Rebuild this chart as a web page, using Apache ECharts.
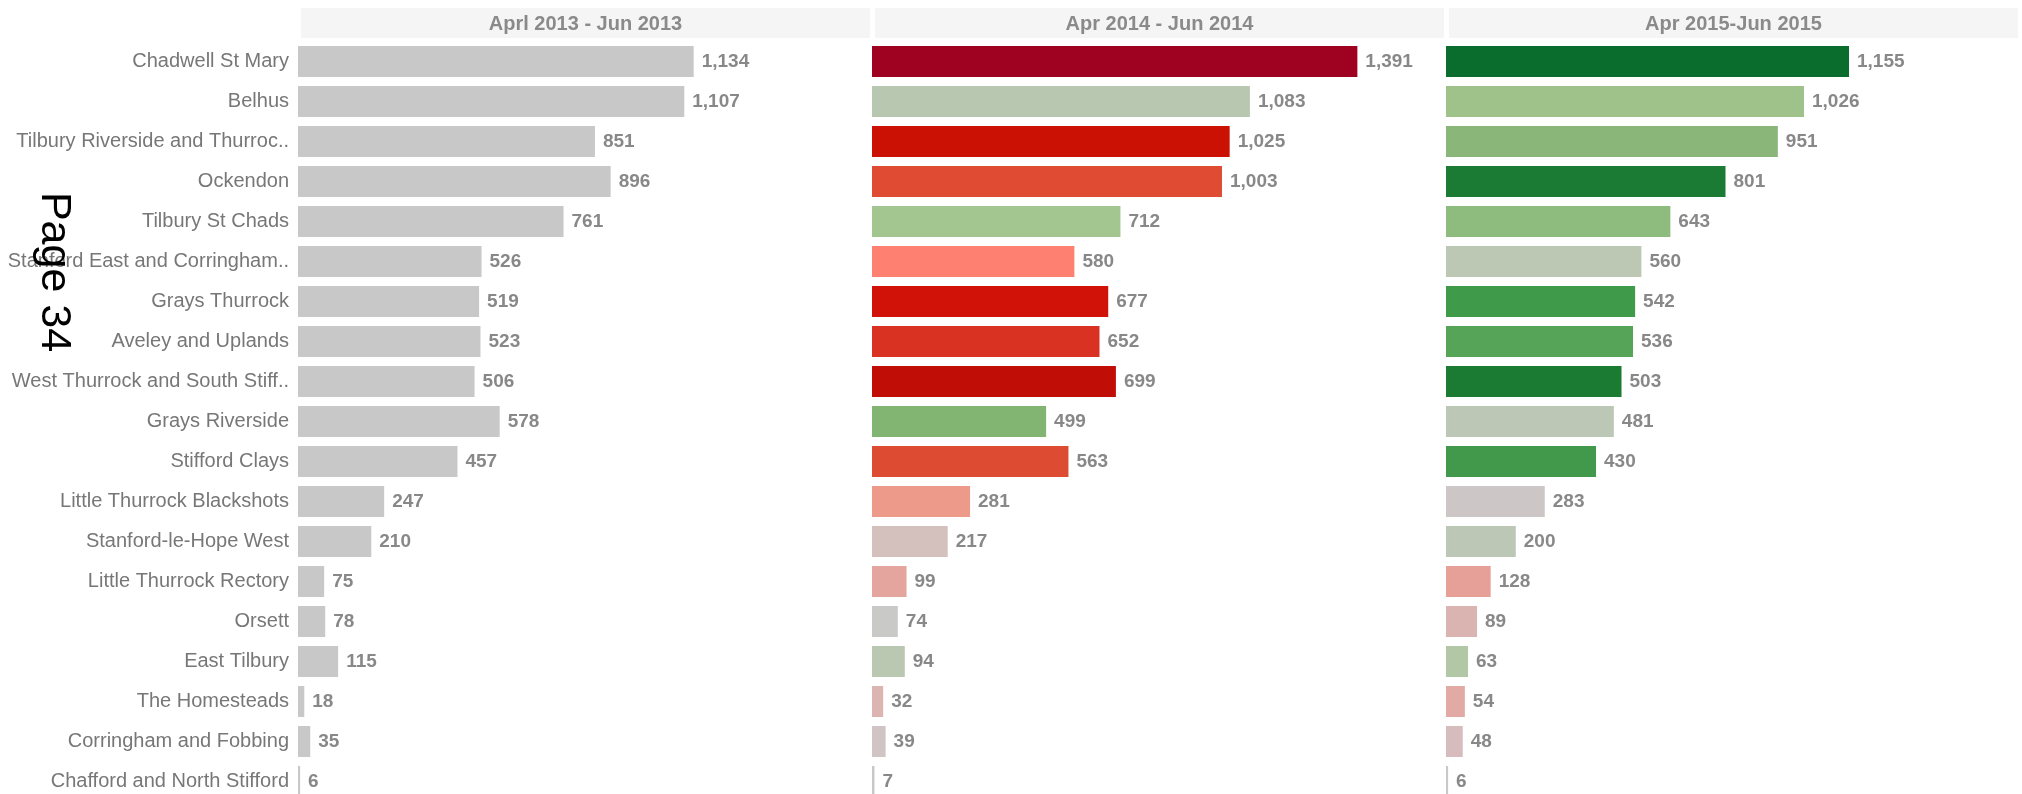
<!DOCTYPE html>
<html>
<head>
<meta charset="utf-8">
<script src="https://cdn.jsdelivr.net/npm/echarts@6/dist/echarts.min.js"></script>
<style>
  html, body { margin: 0; padding: 0; background: #fff; overflow: hidden; }
  /* the last row runs slightly past the visible page edge */
  #chart { width: 2022px; height: 810px; }
</style>
</head>
<body>
<div id="chart"></div>
<script>
// Ward names, top to bottom
const wards = [
  'Chadwell St Mary', 'Belhus', 'Tilbury Riverside and Thurroc..', 'Ockendon',
  'Tilbury St Chads', 'Stanford East and Corringham..', 'Grays Thurrock',
  'Aveley and Uplands', 'West Thurrock and South Stiff..', 'Grays Riverside',
  'Stifford Clays', 'Little Thurrock Blackshots', 'Stanford-le-Hope West',
  'Little Thurrock Rectory', 'Orsett', 'East Tilbury', 'The Homesteads',
  'Corringham and Fobbing', 'Chafford and North Stifford'
];

// Quarter headers
const periods = ['Aprl 2013 - Jun 2013', 'Apr 2014 - Jun 2014', 'Apr 2015-Jun 2015'];

// Counts per ward for each quarter
const q2013 = [1134, 1107, 851, 896, 761, 526, 519, 523, 506, 578, 457, 247, 210, 75, 78, 115, 18, 35, 6];
const q2014 = [1391, 1083, 1025, 1003, 712, 580, 677, 652, 699, 499, 563, 281, 217, 99, 74, 94, 32, 39, 7];
const q2015 = [1155, 1026, 951, 801, 643, 560, 542, 536, 503, 481, 430, 283, 200, 128, 89, 63, 54, 48, 6];

// Bar fills (change colouring for the later quarters)
const colors2013 = new Array(19).fill('#c8c8c8');
const colors2014 = [
  '#9e0220', '#b8c8b0', '#cb1104', '#e04b33', '#a3c58f', '#fd8070', '#d01208',
  '#d93122', '#c00e06', '#82b572', '#de4b33', '#ee9a8a', '#d4c0bc', '#e4a59e',
  '#c9cac8', '#bac8b2', '#dcb4b2', '#d0c4c4', '#c8c8c8'
];
const colors2015 = [
  '#0a6c2d', '#9ec28a', '#8ab67a', '#1b7a33', '#8ebb7e', '#bcc8b4', '#3f9a4a',
  '#56a457', '#1b7b33', '#bcc8b5', '#42994b', '#cdc6c6', '#bcc8b5', '#e6a098',
  '#dab4b0', '#b1c7a6', '#e2aaa4', '#d6bcbc', '#c8c8c8'
];

const seriesValues = [q2013, q2014, q2015];
const seriesColors = [colors2013, colors2014, colors2015];

const FONT = '"Liberation Sans", Arial, sans-serif';
const paneLeft = 298, paneWidth = 574, gridTop = 41.5, gridHeight = 760;
const headerTop = 8, headerHeight = 30;

const grids = [], xAxes = [], yAxes = [], series = [], graphics = [];

periods.forEach((name, i) => {
  const left = paneLeft + paneWidth * i;
  grids.push({ left: left, top: gridTop, width: paneWidth, height: gridHeight, containLabel: false });
  xAxes.push({
    type: 'value', gridIndex: i, min: 0, max: 1645,
    show: false, splitLine: { show: false }
  });
  yAxes.push({
    type: 'category', gridIndex: i, data: wards, inverse: true,
    axisLine: { show: false }, axisTick: { show: false }, splitLine: { show: false },
    axisLabel: {
      show: i === 0, margin: 9, color: '#777777',
      fontFamily: FONT, fontSize: 20
    }
  });
  series.push({
    type: 'bar', xAxisIndex: i, yAxisIndex: i, barWidth: 31,
    data: seriesValues[i].map((v, k) => ({ value: v, itemStyle: { color: seriesColors[i][k] } })),
    label: {
      show: true, position: 'right', distance: 8,
      color: '#888888', fontFamily: FONT, fontWeight: 'bold', fontSize: 19,
      formatter: p => p.value.toLocaleString('en-US')
    },
    silent: true, animation: false
  });
  // Pane header band
  graphics.push({
    type: 'rect',
    shape: { x: left + 3, y: headerTop, width: paneWidth - 5, height: headerHeight },
    style: { fill: '#f5f5f5' }
  });
  graphics.push({
    type: 'text',
    x: left + 3 + (paneWidth - 5) / 2, y: headerTop + headerHeight / 2 + 1,
    style: {
      text: name, fill: '#8a8a8a', font: 'bold 20px ' + FONT,
      align: 'center', verticalAlign: 'middle'
    }
  });
});

// Page number stamped sideways down the left margin
graphics.push({
  type: 'text', x: 54, y: 272, rotation: -Math.PI / 2, z: 100,
  style: {
    text: 'Page 34', fill: '#000000', font: '43px ' + FONT,
    align: 'center', verticalAlign: 'middle'
  }
});

const chart = echarts.init(document.getElementById('chart'));
chart.setOption({
  animation: false,
  backgroundColor: '#ffffff',
  grid: grids, xAxis: xAxes, yAxis: yAxes, series: series,
  graphic: graphics
});
</script>
</body>
</html>
